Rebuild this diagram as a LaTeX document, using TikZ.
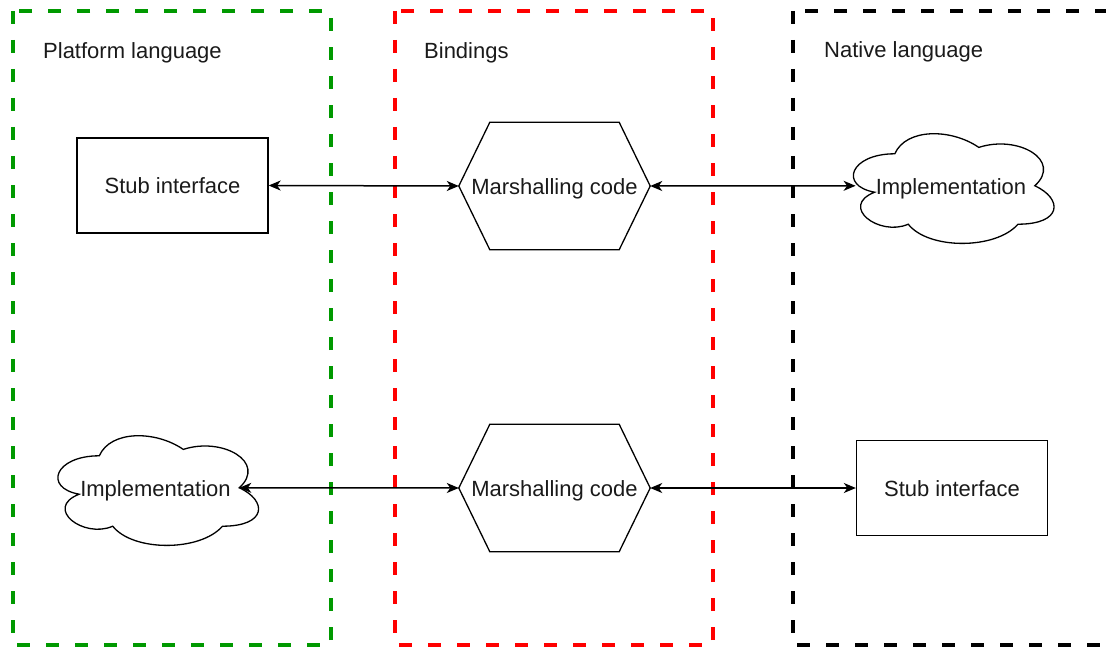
\documentclass[tikz,border=0pt]{standalone}
\usepackage{fontspec}
\setmainfont{Liberation Sans}
\usetikzlibrary{arrows.meta}

\definecolor{zonegreen}{HTML}{009900}
\definecolor{zonered}{HTML}{FF0000}
\definecolor{inktext}{HTML}{1A1A1A}

\tikzset{
  zone/.style={line width=4pt, dash pattern=on 13pt off 16pt},
  zonetitle/.style={anchor=west, inner sep=0pt, text=inktext,
    font=\fontsize{22}{26}\selectfont},
  boxtext/.style={inner sep=0pt, text=inktext, text height=16pt, text depth=0pt,
    font=\fontsize{22}{26}\selectfont},
  stubbox/.style={boxtext, draw, line width=1.3pt, minimum width=191pt, minimum height=95pt},
  hexbox/.style={boxtext, minimum width=191pt, minimum height=127pt},
  cloudbox/.style={boxtext, minimum width=224pt, minimum height=128pt},
  outline/.style={line width=1.3pt},
  link/.style={line width=1.5pt,
    {Stealth[length=12pt,width=10pt,inset=3.5pt]}-{Stealth[length=12pt,width=10pt,inset=3.5pt]}}
}

% hexagon outline around a named node
\newcommand{\hexoutline}[1]{%
  \draw[outline] (#1.west) -- ([xshift=31pt]#1.north west) -- ([xshift=-31pt]#1.north east)
    -- (#1.east) -- ([xshift=-31pt]#1.south east) -- ([xshift=31pt]#1.south west) -- cycle;}

% cloud outline filling the box of a named node
\newcommand{\cloudoutline}[1]{%
  \draw[outline, shift={(#1.north west)}, x=224pt, y=-128pt]
    (0.25,0.25) .. controls (0.05,0.25) and (0,0.5) .. (0.16,0.55)
    .. controls (0,0.66) and (0.18,0.9) .. (0.31,0.8)
    .. controls (0.4,1) and (0.7,1) .. (0.8,0.8)
    .. controls (1,0.8) and (1,0.6) .. (0.875,0.5)
    .. controls (1,0.3) and (0.8,0.1) .. (0.625,0.2)
    .. controls (0.5,0.05) and (0.3,0.05) .. (0.25,0.25) -- cycle;
  \begin{scope}[shift={(#1.north west)}, x=224pt, y=-128pt]
    \coordinate (#1-in) at (0.075,0.5);
    \coordinate (#1-out) at (0.875,0.5);
  \end{scope}}

\begin{document}
\begin{tikzpicture}[x=1pt, y=-1pt]
  \useasboundingbox (0,0) rectangle (1106,650);
  \clip (0,0) rectangle (1106,650);

  % the three zones
  \draw[zone, zonegreen] (13,11) rectangle (331,645);
  \draw[zone, zonered] (395,11) rectangle (713,645);
  \draw[zone, black] (793,11) rectangle (1114,645);

  \node[zonetitle] (tplat) at (43,53) {Platform language};
  \node[zonetitle] (tbind) at (424,53) {Bindings};
  \node[zonetitle] (tnat) at (824,52) {Native language};

  % upper row
  \node[stubbox] (stubA) at (172.5,185.5) {Stub interface};
  \node[hexbox] (marA) at (554.5,186) {Marshalling code};
  \hexoutline{marA}
  \node[cloudbox] (implA) at (951,186) {Implementation};
  \cloudoutline{implA}

  % lower row
  \node[cloudbox] (implB) at (155.5,488) {Implementation};
  \cloudoutline{implB}
  \node[hexbox] (marB) at (554.5,488) {Marshalling code};
  \hexoutline{marB}
  \node[stubbox] (stubB) at (952,488) {Stub interface};

  % connectors
  \draw[link] (stubA.east) -- (marA.west);
  \draw[link] (marA.east) -- (implA-in);
  \draw[link] (implB-out) -- (marB.west);
  \draw[link] (marB.east) -- (stubB.west);
\end{tikzpicture}
\end{document}
